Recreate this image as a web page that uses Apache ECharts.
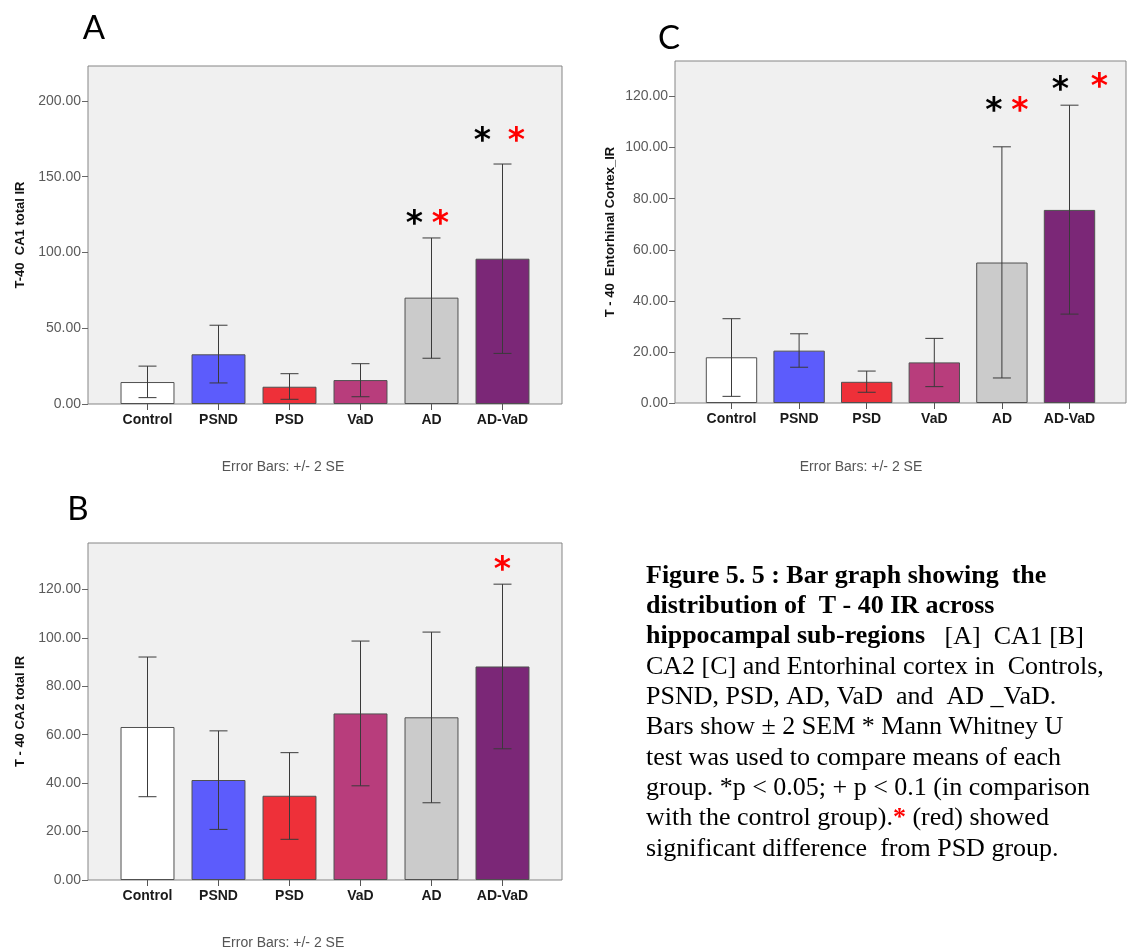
<!DOCTYPE html>
<html>
<head>
<meta charset="utf-8">
<script src="https://cdn.jsdelivr.net/npm/echarts@6/dist/echarts.min.js"></script>
<style>
html,body{margin:0;padding:0;background:#fff;}
#chart{width:1127px;height:949px;}
</style>
</head>
<body>
<div id="chart"></div>
<script>
// ---------------- DATA ----------------
const categories = ['Control', 'PSND', 'PSD', 'VaD', 'AD', 'AD-VaD'];

// Panel A : CA1
const meanA = [14.5, 32.8, 11.4, 15.8, 70.2, 95.9];
const lowA  = [4.2, 13.9, 3.1, 4.8, 30.2, 33.4];
const highA = [25.0, 52.0, 20.0, 26.6, 109.6, 158.4];
const starBlackA = [null, null, null, null, 122.8, 177.6];
const starRedA   = [null, null, null, null, 122.8, 177.6];
const yTicksA = [0, 50, 100, 150, 200];

// Panel B : CA2
const meanB = [63.2, 41.3, 34.8, 68.8, 67.2, 88.2];
const lowB  = [34.4, 20.9, 16.8, 38.9, 31.9, 54.2];
const highB = [92.1, 61.6, 52.6, 98.7, 102.4, 122.2];
const starBlackB = [null, null, null, null, null, null];
const starRedB   = [null, null, null, null, null, 130.3];
const yTicksB = [0, 20, 40, 60, 80, 100, 120];

// Panel C : Entorhinal cortex
const meanC = [17.9, 20.5, 8.3, 15.9, 55.0, 75.6];
const lowC  = [2.6, 14.0, 4.2, 6.4, 9.8, 34.8];
const highC = [33.0, 27.1, 12.5, 25.3, 100.3, 116.6];
const starBlackC = [null, null, null, null, 116.7, 124.9];
const starRedC   = [null, null, null, null, 116.7, 125.9];
const yTicksC = [0, 20, 40, 60, 80, 100, 120];

const captionLines = [
  '{b|Figure 5. 5 : Bar graph showing  the}',
  '{b|distribution of  T - 40 IR across}',
  '{b|hippocampal sub-regions}   [A]  CA1 [B]',
  'CA2 [C] and Entorhinal cortex in  Controls,',
  'PSND, PSD, AD, VaD  and  AD _VaD.',
  'Bars show \u00b1 2 SEM * Mann Whitney U',
  'test was used to compare means of each',
  'group. *p < 0.05; + p < 0.1 (in comparison',
  'with the control group).{r|*} (red) showed',
  'significant difference  from PSD group.'
];

// ---------------- STYLE / LAYOUT ----------------
const barColors = ['#ffffff', '#5c5cfc', '#ee3039', '#b83d7c', '#cbcbcb', '#7b2777'];
const panels = [
  { key: 'A', box: {left: 88, top: 66, width: 474, height: 338}, inset: 24, yMax: 223.1,
    ticks: yTicksA, name: 'T-40  CA1 total IR', nameGap: 61,
    mean: meanA, low: lowA, high: highA, sb: starBlackA, sr: starRedA,
    dxBlack: [0,0,0,0,-17,-20], dxRed: [0,0,0,0,9,14],
    letter: {x: 94, y: 28}, note: {x: 283, y: 467} },
  { key: 'B', box: {left: 88, top: 543, width: 474, height: 337}, inset: 24, yMax: 139.2,
    ticks: yTicksB, name: 'T - 40 CA2 total IR', nameGap: 61,
    mean: meanB, low: lowB, high: highB, sb: starBlackB, sr: starRedB,
    dxBlack: [0,0,0,0,0,0], dxRed: [0,0,0,0,0,0],
    letter: {x: 78, y: 509}, note: {x: 283, y: 943} },
  { key: 'C', box: {left: 675, top: 61, width: 451, height: 342}, inset: 22.7, yMax: 133.9,
    ticks: yTicksC, name: 'T - 40  Entorhinal Cortex_IR', nameGap: 58,
    mean: meanC, low: lowC, high: highC, sb: starBlackC, sr: starRedC,
    dxBlack: [0,0,0,0,-8,-9], dxRed: [0,0,0,0,18,30],
    letter: {x: 669, y: 38}, note: {x: 861, y: 467} }
];
const STAR_FONT = 'bold 33px "DejaVu Sans"';
const STAR_DY = 7;

const grid = [], xAxis = [], yAxis = [], series = [], graphic = [];

panels.forEach((p, k) => {
  const bg = 2 * k, dg = 2 * k + 1;
  grid.push({ left: p.box.left, top: p.box.top, width: p.box.width, height: p.box.height,
    show: true, backgroundColor: '#f0f0f0', borderColor: '#858585', borderWidth: 1 });
  grid.push({ left: p.box.left + p.inset, top: p.box.top, width: p.box.width - 2 * p.inset,
    height: p.box.height, show: false });
  xAxis.push({ gridIndex: bg, type: 'value', min: 0, max: 1, show: false });
  xAxis.push({ gridIndex: dg, type: 'category', data: categories,
    axisLine: { show: false },
    axisTick: { show: true, alignWithLabel: true, length: 6, lineStyle: { color: '#555' } },
    axisLabel: { color: '#1a1a1a', fontWeight: 'bold', fontSize: 14,
      fontFamily: '"Liberation Sans", Arial, sans-serif', margin: 9 } });
  yAxis.push({ gridIndex: bg, type: 'value', min: 0, max: p.yMax,
    axisLine: { show: false },
    axisTick: { show: true, length: 6, customValues: p.ticks, lineStyle: { color: '#666' } },
    axisLabel: { customValues: p.ticks, formatter: v => v.toFixed(2), color: '#5a5a5a',
      fontSize: 14, fontFamily: '"Liberation Sans", Arial, sans-serif', margin: 7 },
    splitLine: { show: false },
    name: p.name, nameLocation: 'middle', nameRotate: 90, nameGap: p.nameGap,
    nameTextStyle: { color: '#111', fontWeight: 'bold', fontSize: 13,
      fontFamily: '"Liberation Sans", Arial, sans-serif' } });
  yAxis.push({ gridIndex: dg, type: 'value', min: 0, max: p.yMax, show: false });

  series.push({ type: 'bar', xAxisIndex: dg, yAxisIndex: dg, barWidth: '76%', silent: true, z: 2,
    data: p.mean.map((v, i) => ({ value: v, itemStyle: { color: barColors[i] } })),
    itemStyle: { borderColor: '#505050', borderWidth: 1 } });

  series.push({ type: 'custom', xAxisIndex: dg, yAxisIndex: dg, silent: true, z: 4,
    data: categories.map((c, i) => [i, p.low[i], p.high[i]]),
    renderItem: (params, api) => {
      const lo = api.coord([api.value(0), api.value(1)]);
      const hi = api.coord([api.value(0), api.value(2)]);
      const hw = 9;
      const st = { stroke: '#3a3a3a', lineWidth: 1 };
      return { type: 'group', children: [
        { type: 'line', shape: { x1: hi[0], y1: hi[1], x2: lo[0], y2: lo[1] }, style: st },
        { type: 'line', shape: { x1: hi[0] - hw, y1: hi[1], x2: hi[0] + hw, y2: hi[1] }, style: st },
        { type: 'line', shape: { x1: lo[0] - hw, y1: lo[1], x2: lo[0] + hw, y2: lo[1] }, style: st }
      ] };
    } });

  [[p.sb, p.dxBlack, '#000000'], [p.sr, p.dxRed, '#ff0000']].forEach(([vals, dx, col]) => {
    const d = [];
    vals.forEach((v, i) => { if (v !== null) d.push([i, v, dx[i]]); });
    if (!d.length) return;
    series.push({ type: 'custom', xAxisIndex: dg, yAxisIndex: dg, silent: true, z: 5, data: d,
      renderItem: (params, api) => {
        const pt = api.coord([api.value(0), api.value(1)]);
        return { type: 'text', x: pt[0] + api.value(2), y: pt[1] + STAR_DY,
          style: { text: '*', fill: col, font: STAR_FONT, align: 'center', verticalAlign: 'middle',
            textAlign: 'center', textVerticalAlign: 'middle' } };
      } });
  });

  graphic.push({ type: 'text', x: p.letter.x, y: p.letter.y, silent: true,
    style: { text: p.key, fill: '#000', font: '33px Lato, "Open Sans", sans-serif',
      align: 'center', verticalAlign: 'middle', textAlign: 'center', textVerticalAlign: 'middle' } });
  graphic.push({ type: 'text', x: p.note.x, y: p.note.y, silent: true,
    style: { text: 'Error Bars: +/- 2 SE', fill: '#555', font: '14px "Liberation Sans", Arial, sans-serif',
      align: 'center', verticalAlign: 'middle', textAlign: 'center', textVerticalAlign: 'middle' } });
});

const option = {
  animation: false,
  backgroundColor: '#ffffff',
  grid, xAxis, yAxis, series, graphic,
  title: {
    left: 646, top: 561, padding: 0,
    text: captionLines.join('\n'),
    textStyle: {
      fontFamily: '"Liberation Serif", "Times New Roman", serif', fontSize: 26, lineHeight: 30.3,
      fontWeight: 'normal', color: '#000',
      rich: {
        b: { fontFamily: '"Liberation Serif", "Times New Roman", serif', fontSize: 26, lineHeight: 30.3,
             fontWeight: 'bold', color: '#000' },
        r: { fontFamily: '"Liberation Serif", "Times New Roman", serif', fontSize: 26, lineHeight: 30.3,
             fontWeight: 'bold', color: '#ff0000' }
      }
    }
  }
};

const chart = echarts.init(document.getElementById('chart'), null, { renderer: 'canvas' });
chart.setOption(option);
</script>
</body>
</html>
